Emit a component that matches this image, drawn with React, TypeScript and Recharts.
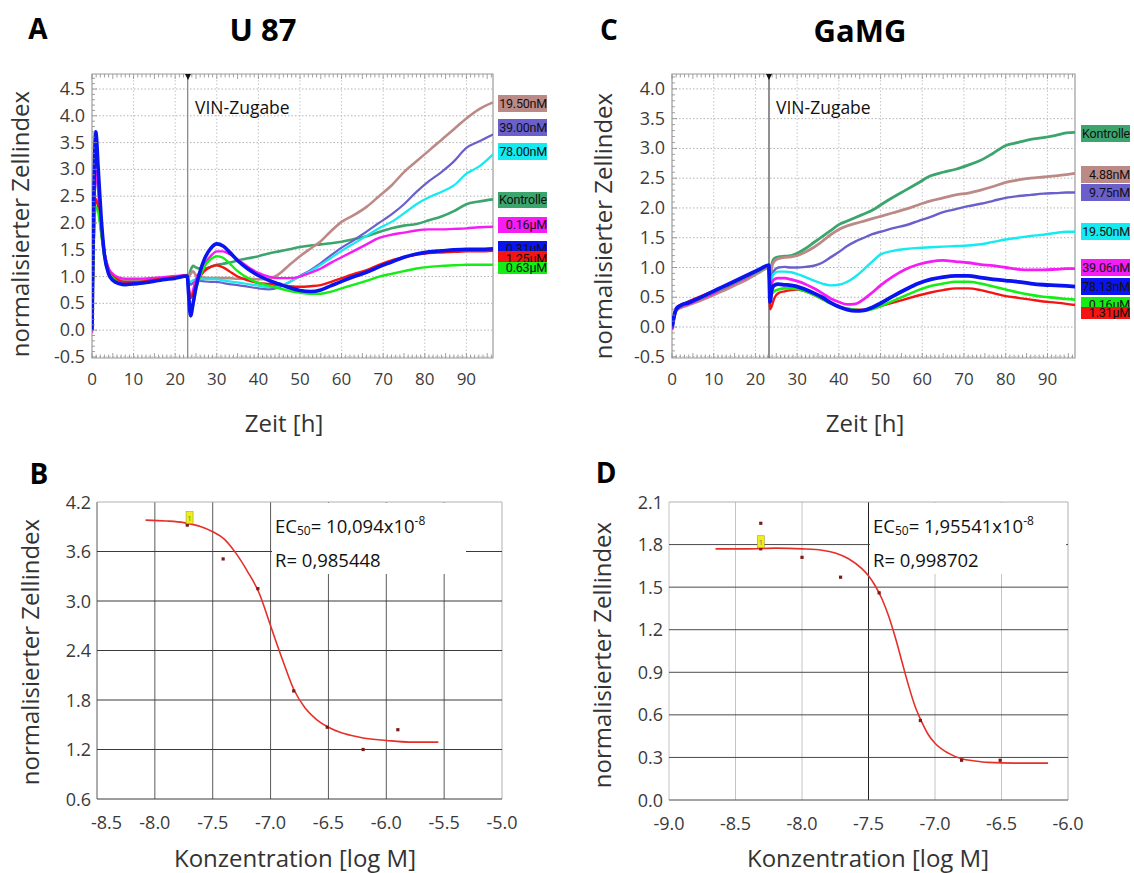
import React from "react";
import {
  ComposedChart,
  Line,
  LineChart,
  ReferenceArea,
  ReferenceLine,
  Scatter,
  XAxis,
  YAxis,
} from "recharts";

const FONT = "'Open Sans', sans-serif";

// ---------- A: U 87, xCELLigence time course ----------
const timeA = [
  0, 0.4, 0.9, 1.5, 2.2, 3, 4, 5, 6.5, 8, 11, 14, 17, 20, 22.9, 23.2, 23.7,
  24.3, 25, 26, 27, 28.5, 30, 31.5, 33, 35, 37.5, 40, 42.5, 45, 47.5, 50, 52.5,
  55, 57.5, 60, 63, 66, 69, 72, 75, 78, 81, 84, 87, 90, 93, 96.4,
];
const aKontrolle = [
  0.5, 2.0, 3.0, 2.6, 1.9, 1.4, 1.12, 1.02, 0.95, 0.92, 0.92, 0.94, 0.96, 0.99, 1.02,
  1.0, 1.12, 1.2, 1.17, 1.15, 1.15, 1.18, 1.22, 1.24, 1.26, 1.3, 1.34, 1.38, 1.43,
  1.47, 1.51, 1.55, 1.58, 1.6, 1.62, 1.65, 1.7, 1.75, 1.83, 1.9, 1.95, 1.98, 2.05,
  2.12, 2.22, 2.35, 2.4, 2.44,
];
const a1950 = [
  0.1, 2.0, 3.3, 2.8, 2.0, 1.45, 1.15, 1.03, 0.96, 0.93, 0.93, 0.95, 0.97, 0.99, 1.02,
  1.0, 1.05, 1.1, 1.02, 0.99, 0.98, 0.97, 0.97, 0.97, 0.97, 0.96, 0.96, 0.95, 0.96,
  1.05, 1.22, 1.38, 1.52, 1.66, 1.85, 2.02, 2.15, 2.3, 2.5, 2.7, 2.95, 3.15, 3.35,
  3.55, 3.75, 3.95, 4.12, 4.25,
];
const a3900 = [
  0.0, 2.2, 3.65, 3.0, 2.1, 1.45, 1.1, 0.98, 0.9, 0.87, 0.88, 0.91, 0.94, 0.97, 1.01,
  0.95, 0.85, 0.88, 0.92, 0.92, 0.91, 0.9, 0.9, 0.88, 0.86, 0.84, 0.81, 0.78, 0.76,
  0.8, 0.9, 1.01, 1.12, 1.25, 1.4, 1.54, 1.68, 1.84, 2.0, 2.16, 2.35, 2.58, 2.78,
  2.95, 3.15, 3.4, 3.52, 3.65,
];
const a7800 = [
  0.0, 2.1, 3.5, 2.9, 2.05, 1.45, 1.12, 1.0, 0.93, 0.9, 0.9, 0.92, 0.95, 0.98, 1.01,
  0.95, 0.9, 0.93, 0.95, 0.95, 0.95, 0.95, 0.95, 0.93, 0.91, 0.89, 0.86, 0.83, 0.8,
  0.82, 0.9, 1.0, 1.1, 1.22, 1.35, 1.48, 1.62, 1.76, 1.9, 2.02, 2.18, 2.35, 2.48,
  2.58, 2.7, 2.92, 3.05, 3.28,
];
const a016 = [
  -0.05, 1.8, 3.0, 2.6, 1.95, 1.45, 1.15, 1.05, 0.98, 0.96, 0.96, 0.97, 0.99, 1.01, 1.03,
  0.85, 0.6, 0.75, 0.95, 1.1, 1.22, 1.38, 1.47, 1.47, 1.42, 1.32, 1.18, 1.07, 1.0,
  0.97, 0.97, 1.0, 1.07, 1.15, 1.26, 1.36, 1.48, 1.6, 1.72, 1.78, 1.82, 1.86, 1.88,
  1.88, 1.89, 1.9, 1.92, 1.93,
];
const a031 = [
  0.0, 2.3, 3.7, 3.0, 2.1, 1.4, 1.05, 0.93, 0.87, 0.85, 0.87, 0.9, 0.94, 0.97, 1.01,
  0.7, 0.27, 0.5, 0.8, 1.1, 1.32, 1.52, 1.61, 1.57, 1.46, 1.3, 1.14, 1.02, 0.93,
  0.86, 0.79, 0.74, 0.72, 0.75, 0.83, 0.91, 1.0, 1.08, 1.18, 1.27, 1.36, 1.42, 1.46,
  1.48, 1.5, 1.51, 1.51, 1.52,
];
const a125 = [
  0.0, 1.6, 2.45, 2.3, 1.85, 1.4, 1.1, 1.0, 0.93, 0.9, 0.9, 0.93, 0.96, 0.99, 1.02,
  0.8, 0.6, 0.68, 0.85, 1.0, 1.1, 1.18, 1.21, 1.17, 1.1, 1.0, 0.93, 0.88, 0.86,
  0.84, 0.82, 0.81, 0.82, 0.84, 0.9, 0.97, 1.05, 1.12, 1.22, 1.3, 1.36, 1.41, 1.44,
  1.45, 1.46, 1.47, 1.47, 1.48,
];
const a063 = [
  0.0, 1.5, 2.3, 2.2, 1.8, 1.35, 1.08, 0.97, 0.88, 0.85, 0.86, 0.9, 0.94, 0.97, 1.01,
  0.7, 0.25, 0.45, 0.75, 1.0, 1.18, 1.32, 1.38, 1.35, 1.25, 1.1, 0.97, 0.88, 0.83,
  0.78, 0.73, 0.7, 0.68, 0.68, 0.72, 0.78, 0.85, 0.92, 1.0, 1.05, 1.1, 1.15, 1.18,
  1.2, 1.21, 1.22, 1.22, 1.22,
];

// ---------- C: GaMG time course ----------
const timeC = [
  0, 0.4, 1, 2, 4, 6, 9, 12, 15, 18, 21, 23.2, 23.5, 23.9, 24.5, 25.5, 27, 28.5,
  30, 32, 34, 36, 38, 40, 42, 44, 46, 48, 50, 53, 56, 59, 62, 65, 68, 71, 74, 77,
  80, 83, 86, 89, 92, 94.5, 96.6,
];
const cKontrolle = [
  0.0, 0.15, 0.3, 0.35, 0.4, 0.45, 0.55, 0.64, 0.74, 0.84, 0.95, 1.02,
  0.75, 1.05, 1.15, 1.18, 1.19, 1.2, 1.24, 1.32, 1.42, 1.52, 1.62, 1.72, 1.78, 1.84,
  1.9, 1.96, 2.05, 2.18, 2.3, 2.42, 2.54, 2.6, 2.65, 2.72, 2.8, 2.92, 3.05, 3.1,
  3.15, 3.18, 3.22, 3.26, 3.27,
];
const c488 = [
  -0.02, 0.12, 0.27, 0.32, 0.37, 0.42, 0.51, 0.6, 0.7, 0.8, 0.92, 1.0,
  0.7, 1.0, 1.1, 1.15, 1.17, 1.18, 1.2, 1.26, 1.34, 1.44, 1.55, 1.64, 1.7, 1.74,
  1.78, 1.82, 1.86, 1.92, 1.98, 2.05, 2.12, 2.17, 2.22, 2.25, 2.3, 2.36, 2.43, 2.47,
  2.5, 2.52, 2.54, 2.56, 2.58,
];
const c975 = [
  0.0, 0.16, 0.31, 0.36, 0.41, 0.47, 0.56, 0.66, 0.76, 0.86, 0.96, 1.03,
  0.55, 0.85, 0.95, 1.0, 1.01, 1.0, 1.0, 1.01, 1.03, 1.08, 1.17, 1.26, 1.36, 1.44,
  1.5, 1.56, 1.6, 1.66, 1.71, 1.78, 1.85, 1.93, 1.98, 2.03, 2.07, 2.12, 2.17, 2.2,
  2.22, 2.24, 2.25, 2.26, 2.26,
];
const c1950 = [
  0.0, 0.15, 0.3, 0.35, 0.4, 0.46, 0.55, 0.65, 0.75, 0.85, 0.95, 1.02,
  0.5, 0.8, 0.9, 0.93, 0.93, 0.92, 0.89, 0.84, 0.78, 0.73, 0.7, 0.71, 0.76, 0.85,
  0.97, 1.1, 1.22, 1.28, 1.31, 1.33, 1.34, 1.35, 1.36, 1.37, 1.39, 1.43, 1.47, 1.5,
  1.53, 1.55, 1.58, 1.6, 1.6,
];
const c3906 = [
  -0.05, 0.13, 0.29, 0.34, 0.39, 0.45, 0.54, 0.64, 0.74, 0.84, 0.95, 1.02,
  0.5, 0.72, 0.8, 0.82, 0.82, 0.8, 0.77, 0.72, 0.65, 0.57, 0.48, 0.42, 0.38, 0.39,
  0.47, 0.58, 0.7, 0.85, 0.97, 1.05, 1.1, 1.12, 1.1, 1.08, 1.05, 1.03, 1.0, 0.97,
  0.96, 0.96, 0.97, 0.98, 0.98,
];
const c7813 = [
  -0.02, 0.15, 0.3, 0.36, 0.41, 0.47, 0.57, 0.67, 0.77, 0.87, 0.97, 1.04,
  0.42, 0.62, 0.7, 0.72, 0.71, 0.7, 0.68, 0.63, 0.57, 0.5, 0.41, 0.34, 0.29, 0.27,
  0.28, 0.33, 0.4, 0.52, 0.63, 0.73, 0.8, 0.84, 0.86, 0.86, 0.83, 0.8, 0.78, 0.76,
  0.73, 0.71, 0.7, 0.69, 0.68,
];
const c016 = [
  0.0, 0.14, 0.3, 0.35, 0.41, 0.46, 0.56, 0.65, 0.75, 0.85, 0.95, 1.02,
  0.45, 0.55, 0.6, 0.63, 0.65, 0.65, 0.64, 0.6, 0.54, 0.47, 0.4, 0.34, 0.31, 0.29,
  0.28, 0.3, 0.35, 0.44, 0.53, 0.62, 0.69, 0.73, 0.76, 0.76, 0.73, 0.68, 0.63, 0.58,
  0.54, 0.51, 0.49, 0.47, 0.46,
];
const c131 = [
  0.0, 0.16, 0.32, 0.37, 0.43, 0.49, 0.58, 0.66, 0.76, 0.86, 0.96, 1.02,
  0.3, 0.35, 0.48, 0.57, 0.6, 0.62, 0.63, 0.6, 0.54, 0.47, 0.4, 0.34, 0.31, 0.29,
  0.29, 0.31, 0.35, 0.41, 0.47, 0.53, 0.58, 0.62, 0.65, 0.65, 0.62, 0.57, 0.52, 0.49,
  0.46, 0.43, 0.41, 0.39, 0.37,
];

const timeTicks = [0, 10, 20, 30, 40, 50, 60, 70, 80, 90];
const yTicksA = [-0.5, 0, 0.5, 1, 1.5, 2, 2.5, 3, 3.5, 4, 4.5];
const yTicksC = [-0.5, 0, 0.5, 1, 1.5, 2, 2.5, 3, 3.5, 4];

const labelsA = ["19.50nM", "39.00nM", "78.00nM", "Kontrolle", "0.16µM", "0.31µM", "1.25µM", "0.63µM"];
const labelsC = ["Kontrolle", "4.88nM", "9.75nM", "19.50nM", "39.06nM", "78.13nM", "0.16µM", "1.31µM"];

// ---------- B / D: dose response ----------
const curveBx = [-8.08, -7.9, -7.75, -7.6, -7.5, -7.4, -7.3, -7.2, -7.1, -7.0, -6.9, -6.8, -6.7, -6.6, -6.5, -6.4, -6.3, -6.2, -6.0, -5.8, -5.55];
const curveBy = [3.98, 3.97, 3.95, 3.9, 3.84, 3.75, 3.58, 3.36, 3.1, 2.7, 2.3, 1.93, 1.7, 1.56, 1.47, 1.41, 1.37, 1.34, 1.31, 1.29, 1.29];
const pointsBx = [-7.72, -7.41, -7.11, -6.8, -6.51, -6.2, -5.9];
const pointsBy = [3.92, 3.51, 3.15, 1.91, 1.47, 1.2, 1.44];
const markerB = { x: -7.7, y: 4.01 };
const xTicksB = [-8.5, -8.0, -7.5, -7.0, -6.5, -6.0, -5.5, -5.0];
const yTicksB = [0.6, 1.2, 1.8, 2.4, 3.0, 3.6, 4.2];

const curveDx = [-8.65, -8.4, -8.2, -8.0, -7.85, -7.75, -7.65, -7.55, -7.5, -7.45, -7.4, -7.35, -7.3, -7.25, -7.2, -7.15, -7.1, -7.05, -7.0, -6.9, -6.8, -6.7, -6.6, -6.4, -6.15];
const curveDy = [1.77, 1.77, 1.775, 1.77, 1.76, 1.74, 1.7, 1.63, 1.58, 1.51, 1.42, 1.3, 1.15, 0.98, 0.81, 0.66, 0.55, 0.46, 0.4, 0.33, 0.29, 0.275, 0.265, 0.26, 0.26];
const pointsDx = [-8.31, -8.31, -8.0, -7.71, -7.42, -7.11, -6.8, -6.51];
const pointsDy = [1.95, 1.77, 1.71, 1.57, 1.46, 0.56, 0.28, 0.28];
const markerD = { x: -8.31, y: 1.82 };
const xTicksD = [-9.0, -8.5, -8.0, -7.5, -7.0, -6.5, -6.0];
const yTicksD = [0.0, 0.3, 0.6, 0.9, 1.2, 1.5, 1.8, 2.1];

// colours
const COL = {
  kontrolle: "#3ca56e",
  brown: "#bc8a86",
  purple: "#6a5fcb",
  cyan: "#14eaf0",
  magenta: "#f51cf5",
  blue: "#0a14f0",
  red: "#f51414",
  green: "#14ee14",
};

const seriesA = [
  { key: "kontrolle", values: aKontrolle, color: COL.kontrolle, width: 2.6 },
  { key: "n1950", values: a1950, color: COL.brown, width: 2.6 },
  { key: "n3900", values: a3900, color: COL.purple, width: 2.2 },
  { key: "n7800", values: a7800, color: COL.cyan, width: 2.2 },
  { key: "u016", values: a016, color: COL.magenta, width: 2.4 },
  { key: "u125", values: a125, color: COL.red, width: 2.4 },
  { key: "u063", values: a063, color: COL.green, width: 2.4 },
  { key: "u031", values: a031, color: COL.blue, width: 3.6 },
];
const legendColorsA = [COL.brown, COL.purple, COL.cyan, COL.kontrolle, COL.magenta, COL.blue, COL.red, COL.green];

const seriesC = [
  { key: "kontrolle", values: cKontrolle, color: COL.kontrolle, width: 2.8 },
  { key: "n488", values: c488, color: COL.brown, width: 2.8 },
  { key: "n975", values: c975, color: COL.purple, width: 2.4 },
  { key: "n1950", values: c1950, color: COL.cyan, width: 2.4 },
  { key: "n3906", values: c3906, color: COL.magenta, width: 2.8 },
  { key: "u131", values: c131, color: COL.red, width: 2.4 },
  { key: "u016", values: c016, color: COL.green, width: 2.6 },
  { key: "n7813", values: c7813, color: COL.blue, width: 3.8 },
];
const legendColorsC = [COL.kontrolle, COL.brown, COL.purple, COL.cyan, COL.magenta, COL.blue, COL.green, COL.red];

const buildRows = (time: number[], series: { key: string; values: number[] }[]) =>
  time.map((t, i) => {
    const row: any = { t };
    series.forEach((s) => (row[s.key] = s.values[i]));
    return row;
  });

const dataA = buildRows(timeA, seriesA);
const dataC = buildRows(timeC, seriesC);
const zipXY = (xs: number[], ys: number[]) => xs.map((x, i) => ({ x, y: ys[i] }));

const near = (list: number[], v: number) => list.some((m) => Math.abs(m - v) < 1e-6);

type Plot = { left: number; top: number; right: number; bottom: number };

function TimePanel(props: {
  box: { left: number; top: number; width: number; height: number };
  plot: Plot;
  data: any[];
  series: { key: string; color: string; width: number }[];
  xMax: number;
  yMin: number;
  yMax: number;
  yTicks: number[];
  vinAt: number;
  vinColor: string;
}) {
  const { box, plot, data, series, xMax, yMin, yMax, yTicks, vinAt, vinColor } = props;
  const plotH = plot.bottom - plot.top;
  const minorX = Array.from({ length: Math.floor(xMax) + 1 }, (_, i) => i);
  const nY = Math.floor((yMax + 0.5) * 10 + 1e-6) + 1;
  const minorY = Array.from({ length: nY }, (_, i) => Math.round((-0.5 + i * 0.1) * 10) / 10);

  const XTick = (p: any) => {
    const { x, y, payload } = p;
    const v = payload.value;
    const len = v % 5 === 0 ? 5 : 3.5;
    return (
      <g>
        <line x1={x} x2={x} y1={y} y2={y - len} stroke="#8a8a8a" strokeWidth={0.8} />
        <line x1={x} x2={x} y1={y - plotH} y2={y - plotH + len} stroke="#8a8a8a" strokeWidth={0.8} />
        {near(timeTicks, v) && (
          <text x={x} y={y + 27} textAnchor="middle" fontSize={17} fill="#3c3c3c" fontFamily={FONT}>
            {v}
          </text>
        )}
      </g>
    );
  };
  const YTick = (p: any) => {
    const { x, y, payload } = p;
    const v = Math.round(payload.value * 10) / 10;
    const major = near(yTicks, v);
    return (
      <g>
        <line x1={x} x2={x + (major ? 5 : 3)} y1={y} y2={y} stroke="#8a8a8a" strokeWidth={0.8} />
        {major && (
          <text x={x - 7} y={y + 6} textAnchor="end" fontSize={18} fill="#3c3c3c" fontFamily={FONT}>
            {v.toFixed(1)}
          </text>
        )}
      </g>
    );
  };

  return (
    <div style={{ position: "absolute", left: box.left, top: box.top }}>
      <LineChart
        width={box.width}
        height={box.height}
        data={data}
        margin={{
          top: plot.top - box.top,
          right: box.left + box.width - plot.right,
          bottom: box.top + box.height - plot.bottom - 30,
          left: 0,
        }}
      >
        <XAxis
          type="number"
          dataKey="t"
          domain={[0, xMax]}
          ticks={minorX}
          interval={0}
          tick={XTick}
          tickLine={false}
          axisLine={false}
          tickSize={0}
          tickMargin={0}
          height={30}
          allowDataOverflow
        />
        <YAxis
          type="number"
          domain={[yMin, yMax]}
          ticks={minorY}
          interval={0}
          tick={YTick}
          tickLine={false}
          axisLine={false}
          tickSize={0}
          tickMargin={0}
          width={plot.left - box.left}
          allowDataOverflow
        />
        {timeTicks.slice(1).map((v) => (
          <ReferenceLine key={"gx" + v} x={v} stroke="#c4c4c4" strokeDasharray="1.5 2" />
        ))}
        {yTicks.map((v) => (
          <ReferenceLine key={"gy" + v} y={v} stroke="#b4b4b4" strokeDasharray="1.5 2" />
        ))}
        <ReferenceLine x={vinAt} stroke={vinColor} strokeWidth={1.3} />
        <ReferenceArea x1={0} x2={xMax} y1={yMin} y2={yMax} fill="none" stroke="#9c9c9c" strokeWidth={1.2} />
        {series.map((s) => (
          <Line
            key={s.key}
            type="monotone"
            dataKey={s.key}
            stroke={s.color}
            strokeWidth={s.width}
            dot={false}
            activeDot={false}
            isAnimationActive={false}
          />
        ))}
      </LineChart>
    </div>
  );
}

function DosePanel(props: {
  box: { left: number; top: number; width: number; height: number };
  plot: Plot;
  curve: { x: number; y: number }[];
  points: { x: number; y: number }[];
  marker: { x: number; y: number };
  xTicks: number[];
  yTicks: number[];
  hColor: string;
  vColor: string;
  vDark?: number;
  shiftFirst?: boolean;
}) {
  const { box, plot, curve, points, marker, xTicks, yTicks, hColor, vColor, vDark, shiftFirst } = props;
  const xMin = xTicks[0];
  const xMax = xTicks[xTicks.length - 1];
  const yMin = yTicks[0];
  const yMax = yTicks[yTicks.length - 1];

  const XTick = (p: any) => {
    const { x, y, payload } = p;
    const v = payload.value;
    const first = shiftFirst && Math.abs(v - xMin) < 1e-6;
    return (
      <text
        x={first ? x - 6 : x}
        y={y + 30}
        textAnchor={first ? "start" : "middle"}
        fontSize={18}
        fill="#3a3a3a"
        fontFamily={FONT}
      >
        {v.toFixed(1)}
      </text>
    );
  };
  const YTick = (p: any) => {
    const { x, y, payload } = p;
    return (
      <text x={x - 6} y={y + 6.5} textAnchor="end" fontSize={18} fill="#3a3a3a" fontFamily={FONT}>
        {payload.value.toFixed(1)}
      </text>
    );
  };
  const dotShape = (p: any) => (
    <rect x={p.cx - 1.6} y={p.cy - 1.6} width={3.2} height={3.2} fill="#7e1a1a" />
  );
  const markShape = (p: any) => (
    <g>
      <rect x={p.cx - 3.5} y={p.cy - 6} width={7} height={12} fill="#f0f016" stroke="#a0a040" strokeWidth={0.6} />
      <text x={p.cx} y={p.cy + 3} fontSize={8} textAnchor="middle" fill="#777" fontFamily={FONT}>
        1
      </text>
    </g>
  );

  return (
    <div style={{ position: "absolute", left: box.left, top: box.top }}>
      <ComposedChart
        width={box.width}
        height={box.height}
        margin={{
          top: plot.top - box.top,
          right: box.left + box.width - plot.right,
          bottom: box.top + box.height - plot.bottom - 30,
          left: 0,
        }}
      >
        <XAxis
          type="number"
          dataKey="x"
          domain={[xMin, xMax]}
          ticks={xTicks}
          interval={0}
          tick={XTick}
          tickLine={false}
          axisLine={false}
          tickSize={0}
          tickMargin={0}
          height={30}
          allowDataOverflow
        />
        <YAxis
          type="number"
          dataKey="y"
          domain={[yMin, yMax]}
          ticks={yTicks}
          interval={0}
          tick={YTick}
          tickLine={false}
          axisLine={false}
          tickSize={0}
          tickMargin={0}
          width={plot.left - box.left}
          allowDataOverflow
        />
        {xTicks.map((v) => (
          <ReferenceLine
            key={"gx" + v}
            x={v}
            stroke={vDark !== undefined && Math.abs(v - vDark) < 1e-6 ? "#222" : v === xMax ? "#b0b0b0" : vColor}
            strokeWidth={1}
          />
        ))}
        {yTicks.map((v) => (
          <ReferenceLine key={"gy" + v} y={v} stroke={v === yMax ? "#b0b0b0" : hColor} strokeWidth={1} />
        ))}
        <Line
          data={curve}
          type="monotone"
          dataKey="y"
          stroke="#e5302a"
          strokeWidth={1.6}
          dot={false}
          activeDot={false}
          isAnimationActive={false}
        />
        <Scatter data={points} dataKey="y" shape={dotShape} isAnimationActive={false} />
        <Scatter data={[marker]} dataKey="y" shape={markShape} isAnimationActive={false} />
      </ComposedChart>
    </div>
  );
}

const Txt = (p: {
  cx: number;
  cy: number;
  size: number;
  bold?: boolean;
  rotate?: boolean;
  children: React.ReactNode;
}) => (
  <div
    style={{
      position: "absolute",
      left: p.cx,
      top: p.cy,
      transform: `translate(-50%, -50%)${p.rotate ? " rotate(-90deg)" : ""}`,
      fontSize: p.size,
      fontWeight: p.bold ? 700 : 400,
      lineHeight: 1,
      whiteSpace: "nowrap",
      color: p.bold ? "#000" : "#333",
    }}
  >
    {p.children}
  </div>
);

const Legend = (p: { left: number; tops: number[]; heights: number[]; labels: string[]; colors: string[] }) => (
  <>
    {p.labels.map((l, i) => (
      <div
        key={l + i}
        style={{
          position: "absolute",
          left: p.left,
          top: p.tops[i],
          width: 49,
          height: p.heights[i],
          lineHeight: p.heights[i] + "px",
          background: p.colors[i],
          fontFamily: "Roboto, sans-serif",
          fontSize: 12.5,
          textAlign: "right",
          color: "#111",
          overflow: "hidden",
          whiteSpace: "nowrap",
          letterSpacing: -0.2,
        }}
      >
        {l}
      </div>
    ))}
  </>
);

const Vin = (p: { x: number; top: number }) => (
  <>
    <div
      style={{
        position: "absolute",
        left: p.x - 3,
        top: p.top,
        width: 0,
        height: 0,
        borderLeft: "3px solid transparent",
        borderRight: "3px solid transparent",
        borderTop: "6px solid #111",
      }}
    />
    <div style={{ position: "absolute", left: p.x + 7, top: p.top + 25, fontSize: 17.5, lineHeight: 1, color: "#111" }}>
      VIN-Zugabe
    </div>
  </>
);

const EcBox = (p: { left: number; width: number; ec: string; r: string }) => (
  <>
    <div style={{ position: "absolute", left: p.left, top: 503, width: p.width, height: 71, background: "#fff" }} />
    <div style={{ position: "absolute", left: p.left + 3, top: 510, fontSize: 18.5, lineHeight: "22px", color: "#111", whiteSpace: "nowrap" }}>
      EC<sub style={{ fontSize: 12, verticalAlign: "-2px" }}>50</sub>= {p.ec}x10
      <sup style={{ fontSize: 12, verticalAlign: "8px" }}>-8</sup>
    </div>
    <div style={{ position: "absolute", left: p.left + 3, top: 549, fontSize: 18.5, lineHeight: "22px", color: "#111", whiteSpace: "nowrap" }}>
      R= {p.r}
    </div>
  </>
);

export default function App() {
  return (
    <div
      style={{
        position: "absolute",
        left: 0,
        top: 0,
        width: 1134,
        height: 873,
        background: "#fff",
        fontFamily: FONT,
        overflow: "hidden",
      }}
    >
      <TimePanel
        box={{ left: 0, top: 0, width: 500, height: 400 }}
        plot={{ left: 92, top: 74, right: 493, bottom: 358 }}
        data={dataA}
        series={seriesA}
        xMax={96.4}
        yMin={-0.52}
        yMax={4.78}
        yTicks={yTicksA}
        vinAt={23}
        vinColor="#8a8a8a"
      />
      <TimePanel
        box={{ left: 560, top: 0, width: 520, height: 400 }}
        plot={{ left: 672, top: 74, right: 1075, bottom: 358 }}
        data={dataC}
        series={seriesC}
        xMax={96.6}
        yMin={-0.52}
        yMax={4.25}
        yTicks={yTicksC}
        vinAt={23.25}
        vinColor="#555"
      />
      <DosePanel
        box={{ left: 0, top: 450, width: 540, height: 400 }}
        plot={{ left: 97, top: 502, right: 502, bottom: 799 }}
        curve={zipXY(curveBx, curveBy)}
        points={zipXY(pointsBx, pointsBy)}
        marker={markerB}
        xTicks={xTicksB}
        yTicks={yTicksB}
        hColor="#3a3a3a"
        vColor="#5a5a5a"
        shiftFirst
      />
      <DosePanel
        box={{ left: 560, top: 450, width: 550, height: 400 }}
        plot={{ left: 669, top: 502, right: 1068, bottom: 800 }}
        curve={zipXY(curveDx, curveDy)}
        points={zipXY(pointsDx, pointsDy)}
        marker={markerD}
        xTicks={xTicksD}
        yTicks={yTicksD}
        hColor="#4a4a4a"
        vColor="#c4c4c4"
        vDark={-7.5}
      />

      <Vin x={188} top={74} />
      <Vin x={769} top={74} />

      <Legend
        left={498}
        tops={[95, 119, 143, 192, 217, 241, 251, 262]}
        heights={[17, 17, 17, 16, 16, 16, 16, 12]}
        labels={labelsA}
        colors={legendColorsA}
      />
      <Legend
        left={1081}
        tops={[125, 166, 184, 223, 259, 278, 297, 307]}
        heights={[17, 17, 17, 17, 17, 17, 16, 12]}
        labels={labelsC}
        colors={legendColorsC}
      />

      <EcBox left={272} width={194} ec="10,094" r="0,985448" />
      <EcBox left={870} width={196} ec="1,95541" r="0,998702" />

      <Txt cx={38} cy={28} size={28} bold>A</Txt>
      <Txt cx={263} cy={29} size={31} bold>U 87</Txt>
      <Txt cx={609} cy={29} size={28} bold>C</Txt>
      <Txt cx={860} cy={30} size={31} bold>GaMG</Txt>
      <Txt cx={39} cy={473} size={28} bold>B</Txt>
      <Txt cx={606} cy={472} size={28} bold>D</Txt>

      <Txt cx={20} cy={224} size={24} rotate>normalisierter Zellindex</Txt>
      <Txt cx={284} cy={423} size={24}>Zeit [h]</Txt>
      <Txt cx={603} cy={226} size={24} rotate>normalisierter Zellindex</Txt>
      <Txt cx={865} cy={423} size={24}>Zeit [h]</Txt>
      <Txt cx={30} cy={652} size={24} rotate>normalisierter Zellindex</Txt>
      <Txt cx={295} cy={858} size={24}>Konzentration [log M]</Txt>
      <Txt cx={602} cy={655} size={24} rotate>normalisierter Zellindex</Txt>
      <Txt cx={868} cy={858} size={24}>Konzentration [log M]</Txt>
    </div>
  );
}
